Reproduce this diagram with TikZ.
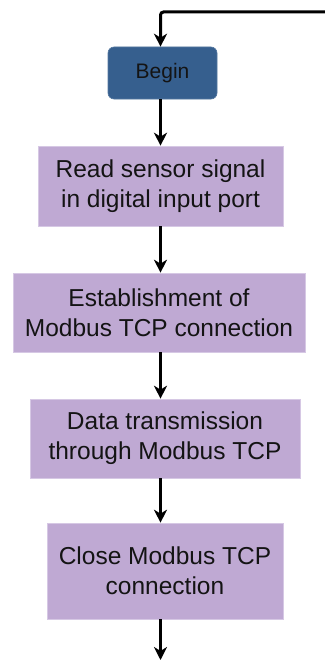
\documentclass[tikz,border=0pt]{standalone}
\usepackage{fontspec}
\setmainfont{Liberation Sans}
\usetikzlibrary{arrows.meta}
\definecolor{boxpurple}{RGB}{191,169,211}
\definecolor{boxedge}{RGB}{214,200,228}
\definecolor{beginblue}{RGB}{54,95,142}
\definecolor{txt}{RGB}{20,20,20}
\begin{document}
\begin{tikzpicture}[x=1pt,y=-1pt,
  procbox/.style={rectangle, fill=boxpurple, draw=boxedge, line width=0.6pt, align=center, text=txt,
    font=\fontsize{24.5}{30}\selectfont, inner sep=0pt},
  beginbox/.style={rectangle, rounded corners=6pt, fill=beginblue, draw=beginblue!85!white, line width=0.6pt,
    text=txt, font=\fontsize{21}{24}\selectfont, inner sep=0pt},
  flow/.style={-{Stealth[length=13pt,width=13pt,inset=4pt]}, line width=3pt, black}]
\useasboundingbox (0,0) rectangle (324,661);
\coordinate (axis) at (160.5,0);
\coordinate (topright) at (326,12);
\coordinate (endpt) at (160.5,660);
\node[beginbox, minimum width=109pt, minimum height=52pt] (begin) at (162.5,73) {Begin};
\node[procbox, minimum width=245pt, minimum height=80pt] (b1) at (160.5,186) {Read sensor signal\\in digital input port};
\node[procbox, minimum width=292pt, minimum height=79pt] (b2) at (159,312.5) {Establishment of\\Modbus TCP connection};
\node[procbox, minimum width=270pt, minimum height=79pt] (b3) at (165,438.5) {Data transmission\\through Modbus TCP};
\node[procbox, minimum width=236pt, minimum height=96pt] (b4) at (165,571) {Close Modbus TCP\\connection};
\draw[flow, rounded corners=3pt] (topright) -- (topright -| axis) -- (begin.north -| axis);
\draw[flow] (begin.south -| axis) -- (b1.north -| axis);
\draw[flow] (b1.south -| axis) -- (b2.north -| axis);
\draw[flow] (b2.south -| axis) -- (b3.north -| axis);
\draw[flow] (b3.south -| axis) -- (b4.north -| axis);
\draw[flow] (b4.south -| axis) -- (endpt);
\end{tikzpicture}
\end{document}
